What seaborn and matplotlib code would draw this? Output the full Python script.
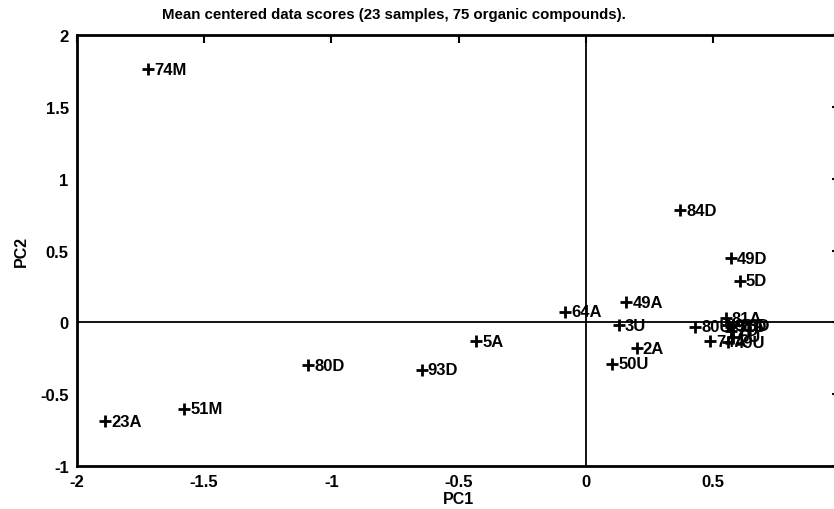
import matplotlib

matplotlib.use("Agg")
import matplotlib.pyplot as plt
import pandas as pd
import seaborn as sns

# sample scores (PC1, PC2)
labels = ["74M", "23A", "51M", "80D", "93D", "5A", "64A", "49A", "3U", "2A",
          "50U", "84D", "49D", "5D", "80U", "74A", "81A", "93A", "51D", "23D",
          "2D", "49U", "5U"]
pc1 = [-1.72, -1.89, -1.58, -1.09, -0.645, -0.43, -0.08, 0.16, 0.13, 0.20,
       0.105, 0.37, 0.57, 0.605, 0.43, 0.49, 0.55, 0.56, 0.57, 0.58,
       0.57, 0.56, 0.58]
pc2 = [1.76, -0.69, -0.60, -0.30, -0.33, -0.13, 0.075, 0.14, -0.02, -0.18,
       -0.29, 0.78, 0.445, 0.29, -0.03, -0.13, 0.03, -0.02, -0.03, -0.02,
       -0.06, -0.14, -0.10]

x_ticks = [-2, -1.5, -1, -0.5, 0, 0.5]
y_ticks = [-1, -0.5, 0, 0.5, 1, 1.5, 2]

sns.set_theme(style="white")
plt.rcParams["font.family"] = ["Liberation Sans", "DejaVu Sans"]
plt.rcParams["axes.unicode_minus"] = False
plt.rcParams["text.color"] = "black"
plt.rcParams["axes.labelcolor"] = "black"

scores = pd.DataFrame({"label": labels, "PC1": pc1, "PC2": pc2})

fig = plt.figure(figsize=(8.34, 5.10), dpi=100)
ax = fig.add_axes([77 / 834, 43 / 510, 763 / 834, 431 / 510])

ax.axhline(0, color="black", linewidth=1.3, zorder=1)
ax.axvline(0, color="black", linewidth=1.3, zorder=1)

sns.scatterplot(data=scores, x="PC1", y="PC2", marker="+", s=85,
                linewidth=2.0, color="black", ax=ax, zorder=3)
for _, row in scores.iterrows():
    ax.annotate(row["label"], (row["PC1"], row["PC2"]), xytext=(4.5, 0),
                textcoords="offset points", ha="left", va="center",
                fontsize=12, fontweight="bold", color="black")

ax.set_xlim(-2, 1)
ax.set_ylim(-1, 2)
ax.set_xticks(x_ticks)
ax.set_yticks(y_ticks)
ax.set_xticklabels([f"{v:g}" for v in x_ticks])
ax.set_yticklabels([f"{v:g}" for v in y_ticks])
ax.tick_params(direction="in", length=6, width=1.5, top=True, right=True,
               labelsize=12, colors="black", pad=6)
for lab in ax.get_xticklabels() + ax.get_yticklabels():
    lab.set_fontweight("bold")
for spine in ax.spines.values():
    spine.set_color("black")
    spine.set_linewidth(2.0)

ax.set_xlabel("PC1", fontsize=11.5, fontweight="bold", labelpad=1, color="black")
ax.set_ylabel("PC2", fontsize=11.5, fontweight="bold", labelpad=8, color="black")
fig.text(394 / 834, 1 - 15 / 510, "Mean centered data scores (23 samples, 75 organic compounds).",
         ha="center", va="center", fontsize=10.8, fontweight="bold", color="black")

fig.savefig("out.png", dpi=100)
